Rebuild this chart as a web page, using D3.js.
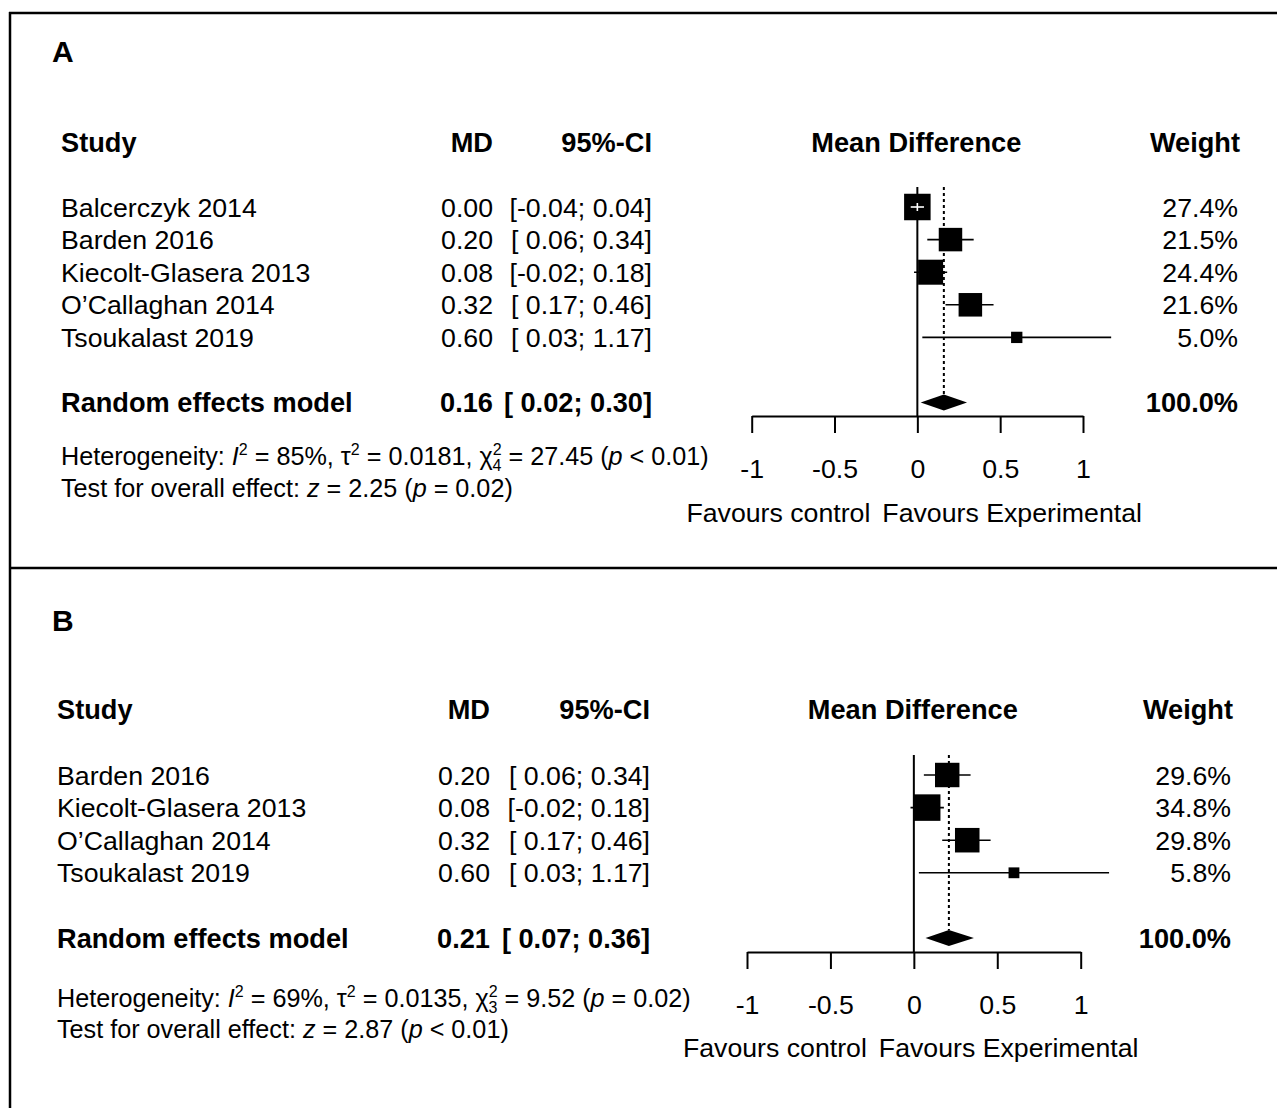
<!DOCTYPE html>
<html><head><meta charset="utf-8">
<script src="https://cdn.jsdelivr.net/npm/d3@7"></script>
<style>
html,body{margin:0;padding:0;background:#fff;}
svg{display:block;}
text{font-family:"Liberation Sans",Arial,sans-serif;fill:#000;}
</style></head>
<body>
<script>
// ---------- DATA ----------
const studiesA = ["Balcerczyk 2014", "Barden 2016", "Kiecolt-Glasera 2013", "O\u2019Callaghan 2014", "Tsoukalast 2019"];
const mdA = [0.00, 0.20, 0.08, 0.32, 0.60];
const lowerA = [-0.04, 0.06, -0.02, 0.17, 0.03];
const upperA = [0.04, 0.34, 0.18, 0.46, 1.17];
const weightA = [27.4, 21.5, 24.4, 21.6, 5.0];
const pooledA = [0.16, 0.02, 0.30];
const totalWeightA = 100.0;
const hetA = {i2: "85%", tau2: "0.0181", df: "4", chi2: "27.45", p: "< 0.01", z: "2.25", pz: "= 0.02"};

const studiesB = ["Barden 2016", "Kiecolt-Glasera 2013", "O\u2019Callaghan 2014", "Tsoukalast 2019"];
const mdB = [0.20, 0.08, 0.32, 0.60];
const lowerB = [0.06, -0.02, 0.17, 0.03];
const upperB = [0.34, 0.18, 0.46, 1.17];
const weightB = [29.6, 34.8, 29.8, 5.8];
const pooledB = [0.21, 0.07, 0.36];
const totalWeightB = 100.0;
const hetB = {i2: "69%", tau2: "0.0135", df: "3", chi2: "9.52", p: "= 0.02", z: "2.87", pz: "< 0.01"};

const tickValues = [-1, -0.5, 0, 0.5, 1];
const tickLabels = ["-1", "-0.5", "0", "0.5", "1"];
const headers = ["Study", "MD", "95%-CI", "Mean Difference", "Weight"];
const favourLabels = ["Favours control", "Favours Experimental"];
const modelLabel = "Random effects model";

// ---------- LAYOUT ----------
const W = 1277, H = 1108;
const svg = d3.select("body").append("svg").attr("width", W).attr("height", H);

// borders
svg.append("line").attr("x1", 9).attr("x2", W).attr("y1", 13).attr("y2", 13).attr("stroke", "#000").attr("stroke-width", 2.5);
svg.append("line").attr("x1", 10).attr("x2", 10).attr("y1", 12).attr("y2", H).attr("stroke", "#000").attr("stroke-width", 2.5);
svg.append("line").attr("x1", 9).attr("x2", W).attr("y1", 568).attr("y2", 568).attr("stroke", "#000").attr("stroke-width", 2.5);

const FS = 26.7, FB = 27.2, FH = 25.2;

function fmt(v){ return v.toFixed(2); }
function ciText(lo, hi){ return "[" + (lo < 0 ? fmt(lo) : " " + fmt(lo)) + "; " + fmt(hi) + "]"; }

function panel(cfg, studies, md, lo, hi, wt, pooled, totalW, het){
  const g = svg.append("g");
  const n = studies.length;
  const x = d3.scaleLinear().domain([-1, 1]).range(cfg.xr);
  const y = d3.scaleLinear().domain([0, 1]).range([cfg.rowY0, cfg.rowY0 + cfg.step]);
  const size = d3.scaleSqrt().domain([0, d3.max(wt)]).range([0, 26.5]);
  const remY = y(n + 1);
  const topY = y(0) - 20;

  // panel letter
  g.append("text").attr("x", cfg.labelX).attr("y", cfg.labelY)
    .attr("font-family", "'Open Sans', 'Liberation Sans', sans-serif")
    .attr("font-weight", "bold").attr("font-size", 30).text(cfg.label);

  // headers
  const hy = cfg.headerY;
  const hdr = (txt, xx, anchor) => g.append("text").attr("x", xx).attr("y", hy).attr("dy", "0.36em")
    .attr("font-weight", "bold").attr("font-size", FB).attr("text-anchor", anchor).text(txt);
  hdr(headers[0], cfg.left, "start");
  hdr(headers[1], cfg.mdRight, "end");
  hdr(headers[2], cfg.ciRight, "end");
  hdr(headers[3], x(0) - 1, "middle");
  hdr(headers[4], cfg.weightHeadRight, "end");

  // study rows text
  studies.forEach((s, i) => {
    const yy = y(i);
    g.append("text").attr("x", cfg.left).attr("y", yy).attr("dy", "0.36em").attr("font-size", FS).text(s);
    g.append("text").attr("x", cfg.mdRight).attr("y", yy).attr("dy", "0.36em").attr("font-size", FS).attr("text-anchor", "end").text(fmt(md[i]));
    g.append("text").attr("x", cfg.ciRight).attr("y", yy).attr("dy", "0.36em").attr("font-size", FS).attr("text-anchor", "end").text(ciText(lo[i], hi[i]));
    g.append("text").attr("x", cfg.weightRight).attr("y", yy).attr("dy", "0.36em").attr("font-size", FS).attr("text-anchor", "end").text(wt[i].toFixed(1) + "%");
  });
  // model row text
  g.append("text").attr("x", cfg.left).attr("y", remY).attr("dy", "0.36em").attr("font-size", FB).attr("font-weight", "bold").text(modelLabel);
  g.append("text").attr("x", cfg.mdRight).attr("y", remY).attr("dy", "0.36em").attr("font-size", FB).attr("font-weight", "bold").attr("text-anchor", "end").text(fmt(pooled[0]));
  g.append("text").attr("x", cfg.ciRight).attr("y", remY).attr("dy", "0.36em").attr("font-size", FB).attr("font-weight", "bold").attr("text-anchor", "end").text(ciText(pooled[1], pooled[2]));
  g.append("text").attr("x", cfg.weightHeadRight - 2).attr("y", remY).attr("dy", "0.36em").attr("font-size", FB).attr("font-weight", "bold").attr("text-anchor", "end").text(totalW.toFixed(1) + "%");

  // reference line at 0
  g.append("line").attr("x1", x(0)).attr("x2", x(0)).attr("y1", topY).attr("y2", cfg.axisY)
    .attr("stroke", "#000").attr("stroke-width", 2);
  // pooled dashed line
  g.append("line").attr("x1", x(pooled[0])).attr("x2", x(pooled[0])).attr("y1", topY).attr("y2", remY - 8)
    .attr("stroke", "#000").attr("stroke-width", 2).attr("stroke-dasharray", "3,3");

  // CIs and squares
  studies.forEach((s, i) => {
    const yy = y(i);
    const sz = size(wt[i]);
    const cx = x(md[i]);
    const inside = x(lo[i]) >= cx - sz / 2 && x(hi[i]) <= cx + sz / 2;
    if (!inside) {
      g.append("line").attr("x1", x(lo[i])).attr("x2", x(hi[i])).attr("y1", yy).attr("y2", yy)
        .attr("stroke", "#000").attr("stroke-width", 1.6);
    }
    g.append("rect").attr("x", cx - sz / 2).attr("y", yy - sz / 2).attr("width", sz).attr("height", sz).attr("fill", "#000");
    if (inside) {
      g.append("line").attr("x1", x(lo[i])).attr("x2", x(hi[i])).attr("y1", yy).attr("y2", yy)
        .attr("stroke", "#fff").attr("stroke-width", 1.6);
      g.append("line").attr("x1", cx).attr("x2", cx).attr("y1", yy - 4).attr("y2", yy + 4)
        .attr("stroke", "#fff").attr("stroke-width", 1.6);
    }
  });

  // diamond
  const dh = 8;
  g.append("path").attr("d", `M${x(pooled[1])},${remY} L${x(pooled[0])},${remY - dh} L${x(pooled[2])},${remY} L${x(pooled[0])},${remY + dh} Z`)
    .attr("fill", "#000");

  // axis
  const ax = g.append("g").attr("transform", `translate(0,${cfg.axisY})`)
    .call(d3.axisBottom(x).tickValues(tickValues).tickFormat((d, i) => tickLabels[i]).tickSize(17).tickPadding(26).tickSizeOuter(0));
  ax.select(".domain").attr("stroke-width", 2);
  ax.selectAll(".tick line").attr("stroke-width", 2);
  ax.selectAll(".tick text").attr("font-size", FS).attr("font-family", "'Liberation Sans',Arial,sans-serif");

  // favours labels
  g.append("text").attr("x", x(0) - 47).attr("y", cfg.favY).attr("dy", "0.36em").attr("font-size", FS).attr("text-anchor", "end").text(favourLabels[0]);
  g.append("text").attr("x", x(0) - 35).attr("y", cfg.favY).attr("dy", "0.36em").attr("font-size", FS).attr("text-anchor", "start").text(favourLabels[1]);

  // heterogeneity
  const t1 = g.append("text").attr("x", cfg.left).attr("y", cfg.hetY).attr("dy", "0.36em").attr("font-size", FH);
  t1.append("tspan").text("Heterogeneity: ");
  t1.append("tspan").attr("font-style", "italic").text("I");
  t1.append("tspan").attr("font-size", 16).attr("dy", -10).text("2");
  t1.append("tspan").attr("dy", 10).text(" = " + het.i2 + ", \u03c4");
  t1.append("tspan").attr("font-size", 16).attr("dy", -10).text("2");
  t1.append("tspan").attr("dy", 10).text(" = " + het.tau2 + ", \u03c7");
  t1.append("tspan").attr("font-size", 16).attr("dy", -10).text("2");
  t1.append("tspan").attr("font-size", 16).attr("dx", -9).attr("dy", 16).text(het.df);
  t1.append("tspan").attr("dy", -6).text(" = " + het.chi2 + " (");
  t1.append("tspan").attr("font-style", "italic").text("p");
  t1.append("tspan").text(" " + het.p + ")");

  const t2 = g.append("text").attr("x", cfg.left).attr("y", cfg.testY).attr("dy", "0.36em").attr("font-size", FH);
  t2.append("tspan").text("Test for overall effect: ");
  t2.append("tspan").attr("font-style", "italic").text("z");
  t2.append("tspan").text(" = " + het.z + " (");
  t2.append("tspan").attr("font-style", "italic").text("p");
  t2.append("tspan").text(" " + het.pz + ")");
}

panel({label: "A", labelX: 52, labelY: 62, left: 61, mdRight: 493, ciRight: 652, weightRight: 1238, weightHeadRight: 1240,
       headerY: 142, rowY0: 207, step: 32.6, xr: [751.7, 1083], axisY: 416, hetY: 456, testY: 488, favY: 512},
      studiesA, mdA, lowerA, upperA, weightA, pooledA, totalWeightA, hetA);
panel({label: "B", labelX: 52, labelY: 631, left: 57, mdRight: 490, ciRight: 650, weightRight: 1231, weightHeadRight: 1233,
       headerY: 709, rowY0: 775, step: 32.6, xr: [747, 1080.7], axisY: 952, hetY: 998, testY: 1029, favY: 1047},
      studiesB, mdB, lowerB, upperB, weightB, pooledB, totalWeightB, hetB);
</script>
</body></html>
